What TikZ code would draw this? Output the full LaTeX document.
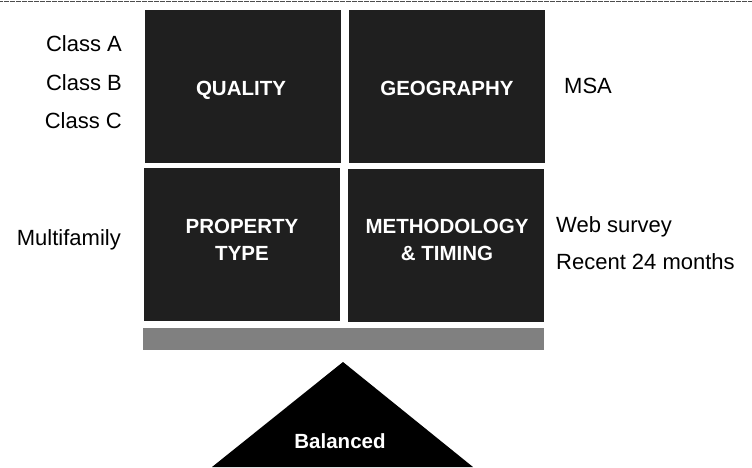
\documentclass[tikz,border=0pt]{standalone}
\usepackage{fontspec}
\setmainfont{Liberation Sans}
\usetikzlibrary{positioning}

\tikzset{
  block/.style={fill=black!88, minimum width=196pt, minimum height=153pt, inner sep=0pt},
  blocktext/.style={text=white, font=\bfseries\fontsize{20.5}{27}\selectfont, align=center, inner sep=0pt},
  side/.style={font=\fontsize{22}{26}\selectfont, inner sep=0pt},
}

\begin{document}
\begin{tikzpicture}[x=1pt,y=-1pt]
\useasboundingbox (0,0) rectangle (752,467);
\draw[black!70, very thin, densely dotted] (0,1) -- (752,1);

% the four blocks
\node[block] (quality) at (242.5,86) {};
\node[block] (geography) at (447,86) {};
\node[block] (property) at (242,244) {};
\node[block] (method) at (446,245) {};

\node[blocktext, anchor=base] (qualitytext) at (241,95) {QUALITY};
\node[blocktext, anchor=base] (geographytext) at (447,95) {GEOGRAPHY};
\node[blocktext, anchor=base] (propertytext) at (242,260) {PROPERTY\\TYPE};
\node[blocktext, anchor=base] (methodtext) at (447,260) {METHODOLOGY\\\& TIMING};

% beam and pivot
\fill[black!50] (143,328) rectangle (544,350);
\fill[black] (343,362) -- (473,467) -- (212,467) -- cycle;
\node[blocktext, anchor=base] (balanced) at (340,448) {Balanced};

% labels at the sides
\node[side, anchor=base east] (classa) at (122,51) {Class A};
\node[side, anchor=base east] (classb) at (122,90) {Class B};
\node[side, anchor=base east] (classc) at (122,128) {Class C};
\node[side, anchor=base east] (multifamily) at (121,245) {Multifamily};
\node[side, anchor=base west] (msa) at (564,93) {MSA};
\node[side, anchor=base west] (web) at (556,232) {Web survey};
\node[side, anchor=base west] (recent) at (556,269) {Recent 24 months};
\end{tikzpicture}
\end{document}
